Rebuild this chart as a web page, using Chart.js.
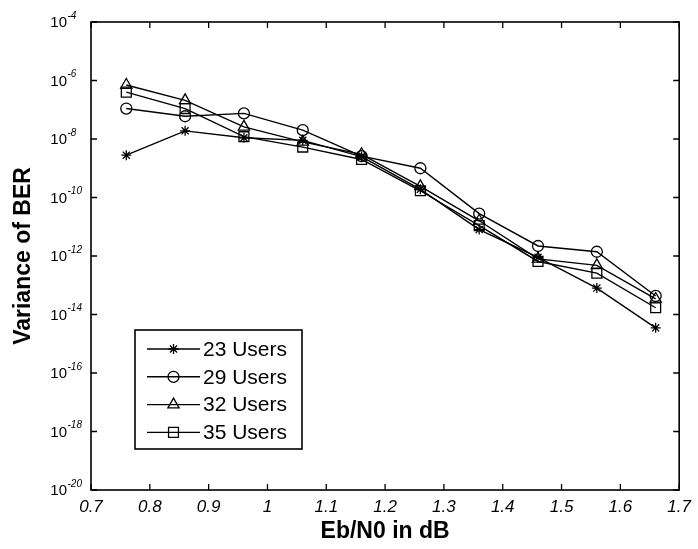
<!DOCTYPE html>
<html>
<head>
<meta charset="utf-8">
<title>Variance of BER</title>
<script src="https://cdn.jsdelivr.net/npm/chart.js@4.4.0/dist/chart.umd.min.js"></script>
<style>
  body { margin: 0; background: #fff; }
</style>
</head>
<body>
<canvas id="berChart" width="698" height="549"></canvas>
<script>
// Eb/N0 values (dB)
const ebno = [0.76, 0.86, 0.96, 1.06, 1.16, 1.26, 1.36, 1.46, 1.56, 1.66];

// variance of BER
const users23 = [2.8e-9, 1.9e-8, 1.1e-8, 9e-9, 2.5e-9, 1.9e-10, 8e-12, 9e-13, 8e-14, 3.5e-15];
const users29 = [1.1e-7, 6e-8, 7.5e-8, 2e-8, 2.6e-9, 1e-9, 2.8e-11, 2.2e-12, 1.4e-12, 4.3e-14];
const users32 = [7e-7, 2.1e-7, 2.6e-8, 8e-9, 3e-9, 2.4e-10, 1.6e-11, 8e-13, 4.8e-13, 3.4e-14];
const users35 = [4e-7, 1.1e-7, 1.2e-8, 5.3e-9, 2e-9, 1.7e-10, 1.1e-11, 6.5e-13, 2.6e-13, 1.7e-14];

const seriesLabels = ["23 Users", "29 Users", "32 Users", "35 Users"];

// tick labels
const xTicks = [0.7, 0.8, 0.9, 1, 1.1, 1.2, 1.3, 1.4, 1.5, 1.6, 1.7];
const yExponents = [-4, -6, -8, -10, -12, -14, -16, -18, -20];

const markers = [
  { style: "star", radius: 5 },
  { style: "circle", radius: 5.5 },
  { style: "triangle", radius: 6.5 },
  { style: "rect", radius: 7 },
];

function toPoints(values) {
  return values.map((v, i) => ({ x: ebno[i], y: v }));
}

const makeDataset = (label, values, i) => ({
  label: label,
  data: toPoints(values),
  borderColor: "#000",
  borderWidth: 1.4,
  pointStyle: markers[i].style,
  pointRadius: markers[i].radius,
  pointBorderColor: "#000",
  pointBackgroundColor: "rgba(0,0,0,0)",
  pointBorderWidth: 1.3,
  tension: 0,
});

// draws a marker the same way chart.js does, if helpers are around
function marker(ctx, style, radius, x, y) {
  if (Chart.helpers && Chart.helpers.drawPoint) {
    ctx.fillStyle = "rgba(0,0,0,0)";
    Chart.helpers.drawPoint(ctx, { pointStyle: style, radius: radius, borderWidth: 1.3, rotation: 0 }, x, y);
    return;
  }
  ctx.beginPath();
  ctx.arc(x, y, radius, 0, Math.PI * 2);
  ctx.stroke();
}

// box, inward ticks, superscript y labels and the legend
const matlabLook = {
  id: "matlabLook",
  afterDraw(chart) {
    const ctx = chart.ctx;
    const area = chart.chartArea;
    const xs = chart.scales.x;
    const ys = chart.scales.y;
    const tickLen = 6;

    ctx.save();
    ctx.strokeStyle = "#000";
    ctx.lineWidth = 1.6;
    ctx.strokeRect(area.left, area.top, area.right - area.left, area.bottom - area.top);

    ctx.lineWidth = 1.3;
    ctx.beginPath();
    xTicks.forEach((t) => {
      const px = xs.getPixelForValue(t);
      ctx.moveTo(px, area.bottom);
      ctx.lineTo(px, area.bottom - tickLen);
      ctx.moveTo(px, area.top);
      ctx.lineTo(px, area.top + tickLen);
    });
    yExponents.forEach((e) => {
      const py = ys.getPixelForValue(Math.pow(10, e));
      ctx.moveTo(area.left, py);
      ctx.lineTo(area.left + tickLen, py);
      ctx.moveTo(area.right, py);
      ctx.lineTo(area.right - tickLen, py);
    });
    ctx.stroke();

    // y tick labels as 10^n
    ctx.fillStyle = "#000";
    yExponents.forEach((e) => {
      const py = ys.getPixelForValue(Math.pow(10, e));
      ctx.font = "15px Arial, 'Liberation Sans', sans-serif";
      ctx.textAlign = "right";
      ctx.textBaseline = "middle";
      ctx.fillText("10", 67, py + 1);
      ctx.font = "italic 10px Arial, 'Liberation Sans', sans-serif";
      ctx.textAlign = "left";
      ctx.fillText("-" + Math.abs(e), 67.5, py - 6);
    });

    // legend
    const box = { left: 135, top: 330, width: 167, height: 119 };
    ctx.fillStyle = "#fff";
    ctx.fillRect(box.left, box.top, box.width, box.height);
    ctx.lineWidth = 1.6;
    ctx.strokeStyle = "#000";
    ctx.strokeRect(box.left, box.top, box.width, box.height);

    chart.data.datasets.forEach((ds, i) => {
      const ly = 349 + i * 27.8;
      ctx.lineWidth = 1.4;
      ctx.beginPath();
      ctx.moveTo(147, ly);
      ctx.lineTo(200, ly);
      ctx.stroke();
      ctx.lineWidth = 1.3;
      marker(ctx, markers[i].style, markers[i].radius, 173.5, ly);
      ctx.fillStyle = "#000";
      ctx.font = "21px Arial, 'Liberation Sans', sans-serif";
      ctx.textAlign = "left";
      ctx.textBaseline = "middle";
      ctx.fillText(ds.label, 203, ly + 1);
    });
    ctx.restore();
  },
};

new Chart(document.getElementById("berChart"), {
  type: "line",
  data: {
    datasets: [
      makeDataset(seriesLabels[0], users23, 0),
      makeDataset(seriesLabels[1], users29, 1),
      makeDataset(seriesLabels[2], users32, 2),
      makeDataset(seriesLabels[3], users35, 3),
    ],
  },
  options: {
    responsive: false,
    animation: false,
    layout: { padding: { top: 22, right: 13, bottom: 0, left: 0 } },
    plugins: {
      legend: { display: false },
      tooltip: { enabled: false },
    },
    scales: {
      x: {
        type: "linear",
        min: 0.7,
        max: 1.7,
        afterBuildTicks: (scale) => {
          scale.ticks = xTicks.map((v) => ({ value: v }));
        },
        afterFit: (scale) => {
          scale.height = 59;
        },
        grid: { display: false, drawTicks: false },
        border: { display: false },
        ticks: {
          color: "#000",
          padding: 7,
          maxRotation: 0,
          autoSkip: false,
          font: { family: "Arial, 'Liberation Sans', sans-serif", size: 17, style: "italic" },
          callback: (v) => String(Math.round(v * 10) / 10),
        },
        title: {
          display: true,
          text: "Eb/N0 in dB",
          color: "#000",
          font: { family: "Arial, 'Liberation Sans', sans-serif", size: 23, weight: "bold" },
          padding: { top: 0, bottom: 4 },
        },
      },
      y: {
        type: "logarithmic",
        min: 1e-20,
        max: 1e-4,
        afterBuildTicks: (scale) => {
          scale.ticks = yExponents.map((e) => ({ value: Math.pow(10, e) }));
        },
        afterFit: (scale) => {
          scale.width = 91;
        },
        grid: { display: false, drawTicks: false },
        border: { display: false },
        ticks: { display: false },
        title: {
          display: true,
          text: "Variance of BER",
          color: "#000",
          font: { family: "Arial, 'Liberation Sans', sans-serif", size: 23, weight: "bold" },
          padding: { top: 10, bottom: 0 },
        },
      },
    },
  },
  plugins: [matlabLook],
});
</script>
</body>
</html>
